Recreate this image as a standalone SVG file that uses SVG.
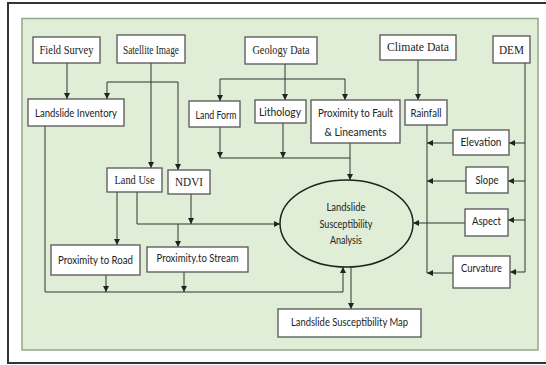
<svg xmlns="http://www.w3.org/2000/svg" width="546" height="365" viewBox="0 0 546 365">
<defs>
<marker id="ah" viewBox="0 0 10 10" refX="10" refY="5" markerWidth="6" markerHeight="6" markerUnits="userSpaceOnUse" orient="auto"><path d="M0,0 L10,5 L0,10 z" fill="#222"/></marker>
<style>
.box{fill:#fff;stroke:#555;stroke-width:1.3}
.c{fill:none;stroke:#333;stroke-width:1}
.a{fill:none;stroke:#333;stroke-width:1;marker-end:url(#ah)}
.s{font-family:"Liberation Serif","Times New Roman",serif;font-size:12px;fill:#222;text-anchor:middle}
.t{font-family:Lato,"Open Sans",sans-serif;font-size:10.5px;fill:#222;text-anchor:middle}
</style>
</defs>
<rect x="0" y="0" width="546" height="365" fill="#fff"/>
<path d="M548,3 H8 V363 H548" fill="none" stroke="#333" stroke-width="2"/>
<rect x="22" y="18.5" width="516" height="331.5" fill="#e0eed7" stroke="#94a78a" stroke-width="1.5"/>

<g id="connectors">
<path class="a" d="M67,63 V99"/>
<path class="a" d="M151,63 V168"/>
<path class="c" d="M107,82 H178"/>
<path class="a" d="M107,82 V99"/>
<path class="a" d="M178,82 V170"/>
<path class="a" d="M285,64 V100"/>
<path class="c" d="M220,79 H345"/>
<path class="a" d="M220,79 V101"/>
<path class="a" d="M345,79 V100"/>
<path class="a" d="M220,127 V158"/>
<path class="a" d="M283,123 V158"/>
<path class="c" d="M220,158 H350"/>
<path class="a" d="M350,143 V180"/>
<path class="a" d="M418,60 V100"/>
<path class="c" d="M525,63 V272"/>
<path class="a" d="M525,143 H509"/>
<path class="a" d="M525,181 H508"/>
<path class="a" d="M525,220 H508"/>
<path class="a" d="M525,272 H510"/>
<path class="c" d="M427,125 V273"/>
<path class="a" d="M453,143 H427"/>
<path class="a" d="M466,181 H427"/>
<path class="a" d="M453,273 H427"/>
<path class="a" d="M465,223 H413"/>
<path class="c" d="M45,126 V292 H343"/>
<path class="a" d="M343,292 V267"/>
<path class="a" d="M117,192 V245"/>
<path class="c" d="M137,192 V224"/>
<path class="a" d="M137,224 H280"/>
<path class="a" d="M191,194 V224"/>
<path class="a" d="M178,224 V247"/>
<path class="a" d="M106,275 V292"/>
<path class="a" d="M184,272 V292"/>
<path class="a" d="M351,267 V309"/>
</g>

<g id="field-survey"><rect class="box" x="33" y="37" width="67" height="26"/><text class="s" x="66.5" y="54" textLength="54" lengthAdjust="spacingAndGlyphs">Field Survey</text></g>
<g id="satellite-image"><rect class="box" x="117" y="35" width="68" height="28"/><text class="s" x="151" y="54" textLength="56" lengthAdjust="spacingAndGlyphs">Satellite Image</text></g>
<g id="geology-data"><rect class="box" x="245" y="37" width="72" height="27"/><text class="s" x="281" y="54" textLength="57" lengthAdjust="spacingAndGlyphs">Geology Data</text></g>
<g id="climate-data"><rect class="box" x="380" y="35" width="76" height="25"/><text class="s" x="418" y="51" textLength="62" lengthAdjust="spacingAndGlyphs">Climate Data</text></g>
<g id="dem"><rect class="box" x="493" y="36" width="37" height="27"/><text class="s" x="511.5" y="54" textLength="25" lengthAdjust="spacingAndGlyphs">DEM</text></g>

<g id="landslide-inventory"><rect class="box" x="28" y="99" width="96" height="27"/><text class="t" x="76" y="117" textLength="82" lengthAdjust="spacingAndGlyphs">Landslide Inventory</text></g>
<g id="land-form"><rect class="box" x="189" y="101" width="51" height="26"/><text class="t" x="216" y="119" textLength="41" lengthAdjust="spacingAndGlyphs">Land Form</text></g>
<g id="lithology"><rect class="box" x="255" y="100" width="51" height="23"/><text class="t" x="280" y="116" textLength="42" lengthAdjust="spacingAndGlyphs">Lithology</text></g>
<g id="proximity-fault"><rect class="box" x="311" y="100" width="89" height="43"/><text class="t" x="355.5" y="117" textLength="75" lengthAdjust="spacingAndGlyphs">Proximity to Fault</text><text class="t" x="355.5" y="136" textLength="62" lengthAdjust="spacingAndGlyphs">&amp; Lineaments</text></g>
<g id="rainfall"><rect class="box" x="405" y="100" width="42" height="25"/><text class="t" x="426" y="117" textLength="31" lengthAdjust="spacingAndGlyphs">Rainfall</text></g>

<g id="elevation"><rect class="box" x="453" y="130" width="56" height="25"/><text class="t" x="481" y="146" textLength="41" lengthAdjust="spacingAndGlyphs">Elevation</text></g>
<g id="slope"><rect class="box" x="466" y="167" width="42" height="26"/><text class="t" x="487" y="184" textLength="23" lengthAdjust="spacingAndGlyphs">Slope</text></g>
<g id="aspect"><rect class="box" x="465" y="209" width="43" height="27"/><text class="t" x="486.5" y="225" textLength="29" lengthAdjust="spacingAndGlyphs">Aspect</text></g>
<g id="curvature"><rect class="box" x="453" y="256" width="57" height="32"/><text class="t" x="481.5" y="272" textLength="41" lengthAdjust="spacingAndGlyphs">Curvature</text></g>

<g id="land-use"><rect class="box" x="107" y="168" width="55" height="24"/><text class="s" x="134.5" y="184" textLength="40" lengthAdjust="spacingAndGlyphs">Land Use</text></g>
<g id="ndvi"><rect class="box" x="168" y="170" width="42" height="24"/><text class="s" x="189" y="186" textLength="28" lengthAdjust="spacingAndGlyphs">NDVI</text></g>

<g id="analysis"><ellipse cx="346.5" cy="223.5" rx="66.5" ry="43.5" fill="none" stroke="#222" stroke-width="1.5"/><text class="t" x="346" y="211" textLength="39" lengthAdjust="spacingAndGlyphs">Landslide</text><text class="t" x="346" y="228" textLength="53" lengthAdjust="spacingAndGlyphs">Susceptibility</text><text class="t" x="346" y="244" textLength="32" lengthAdjust="spacingAndGlyphs">Analysis</text></g>

<g id="proximity-road"><rect class="box" x="51" y="245" width="89" height="30"/><text class="t" x="95.5" y="264" textLength="75" lengthAdjust="spacingAndGlyphs">Proximity to Road</text></g>
<g id="proximity-stream"><rect class="box" x="147" y="247" width="101" height="25"/><text class="t" x="197.5" y="262" textLength="82" lengthAdjust="spacingAndGlyphs">Proximity.to Stream</text></g>
<g id="susceptibility-map"><rect class="box" x="278" y="309" width="143" height="28"/><text class="t" x="349.5" y="326" textLength="117" lengthAdjust="spacingAndGlyphs">Landslide Susceptibility Map</text></g>
</svg>
